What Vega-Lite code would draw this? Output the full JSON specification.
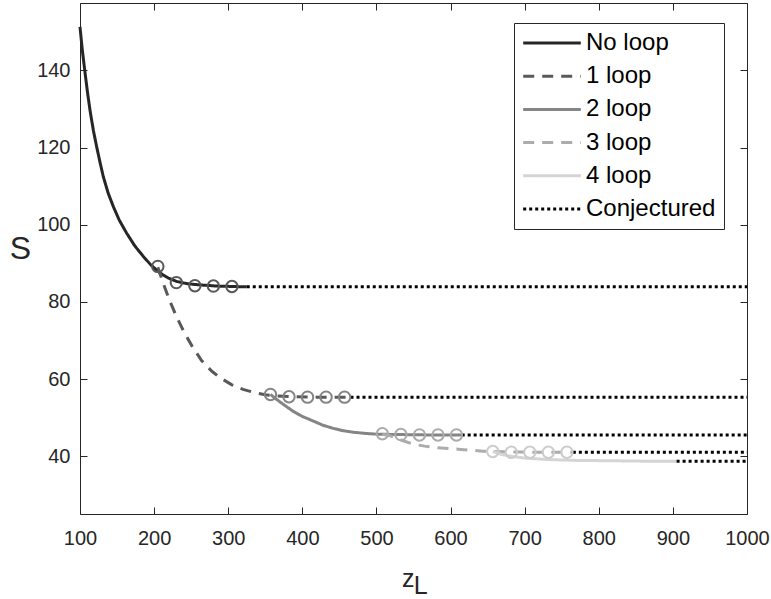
{
  "$schema": "https://vega.github.io/schema/vega-lite/v6.json",
  "width": 667,
  "height": 511,
  "autosize": {"type": "none"},
  "padding": {"left": 80, "top": 3, "right": 24, "bottom": 85},
  "background": "white",
  "config": {
    "font": "Liberation Sans",
    "view": {"stroke": "#262626", "strokeWidth": 1},
    "axis": {
      "grid": false,
      "domain": false,
      "tickColor": "#262626",
      "tickSize": -7,
      "tickWidth": 1,
      "labelColor": "#262626",
      "titleColor": "#262626",
      "labelFont": "Liberation Sans",
      "titleFont": "Liberation Sans",
      "titleFontWeight": "normal",
      "labelFontSize": 20,
      "labelOverlap": false
    }
  },
  "datasets": {
    "lines": [
      {"series": "No loop", "seg": "a", "z": 100, "S": 151.3},
      {"series": "No loop", "seg": "a", "z": 103, "S": 145.5},
      {"series": "No loop", "seg": "a", "z": 106.7, "S": 139.6},
      {"series": "No loop", "seg": "a", "z": 110, "S": 134.5},
      {"series": "No loop", "seg": "a", "z": 113.5, "S": 129.7},
      {"series": "No loop", "seg": "a", "z": 118, "S": 124.5},
      {"series": "No loop", "seg": "a", "z": 122.5, "S": 120.2},
      {"series": "No loop", "seg": "a", "z": 127, "S": 116.2},
      {"series": "No loop", "seg": "a", "z": 131.4, "S": 112.5},
      {"series": "No loop", "seg": "a", "z": 138, "S": 108.2},
      {"series": "No loop", "seg": "a", "z": 145, "S": 104.7},
      {"series": "No loop", "seg": "a", "z": 153, "S": 101.2},
      {"series": "No loop", "seg": "a", "z": 163, "S": 97.8},
      {"series": "No loop", "seg": "a", "z": 174, "S": 94.5},
      {"series": "No loop", "seg": "a", "z": 185.4, "S": 91.8},
      {"series": "No loop", "seg": "a", "z": 196, "S": 89.5},
      {"series": "No loop", "seg": "a", "z": 207.9, "S": 87.5},
      {"series": "No loop", "seg": "a", "z": 219, "S": 86.2},
      {"series": "No loop", "seg": "a", "z": 230.5, "S": 85.3},
      {"series": "No loop", "seg": "a", "z": 245, "S": 84.7},
      {"series": "No loop", "seg": "a", "z": 262, "S": 84.4},
      {"series": "No loop", "seg": "a", "z": 285, "S": 84.1},
      {"series": "No loop", "seg": "a", "z": 305, "S": 84.0},
      {"series": "No loop", "seg": "a", "z": 325, "S": 83.9},
      {"series": "1 loop", "seg": "b", "z": 205, "S": 89.0},
      {"series": "1 loop", "seg": "b", "z": 212, "S": 85.0},
      {"series": "1 loop", "seg": "b", "z": 221, "S": 80.3},
      {"series": "1 loop", "seg": "b", "z": 230, "S": 76.3},
      {"series": "1 loop", "seg": "b", "z": 240, "S": 72.3},
      {"series": "1 loop", "seg": "b", "z": 251, "S": 68.6},
      {"series": "1 loop", "seg": "b", "z": 264, "S": 64.8},
      {"series": "1 loop", "seg": "b", "z": 278, "S": 62.0},
      {"series": "1 loop", "seg": "b", "z": 290, "S": 60.2},
      {"series": "1 loop", "seg": "b", "z": 305, "S": 58.5},
      {"series": "1 loop", "seg": "b", "z": 320, "S": 57.3},
      {"series": "1 loop", "seg": "b", "z": 335, "S": 56.5},
      {"series": "1 loop", "seg": "b", "z": 350, "S": 55.9},
      {"series": "1 loop", "seg": "b", "z": 365, "S": 55.6},
      {"series": "1 loop", "seg": "b", "z": 390, "S": 55.4},
      {"series": "1 loop", "seg": "b", "z": 420, "S": 55.3},
      {"series": "1 loop", "seg": "b", "z": 465, "S": 55.3},
      {"series": "2 loop", "seg": "c", "z": 357, "S": 56.0},
      {"series": "2 loop", "seg": "c", "z": 365.4, "S": 54.7},
      {"series": "2 loop", "seg": "c", "z": 376, "S": 53.2},
      {"series": "2 loop", "seg": "c", "z": 387.8, "S": 51.6},
      {"series": "2 loop", "seg": "c", "z": 400, "S": 50.3},
      {"series": "2 loop", "seg": "c", "z": 414.8, "S": 49.1},
      {"series": "2 loop", "seg": "c", "z": 428, "S": 48.0},
      {"series": "2 loop", "seg": "c", "z": 441.8, "S": 47.2},
      {"series": "2 loop", "seg": "c", "z": 455, "S": 46.6},
      {"series": "2 loop", "seg": "c", "z": 468.8, "S": 46.2},
      {"series": "2 loop", "seg": "c", "z": 485, "S": 45.9},
      {"series": "2 loop", "seg": "c", "z": 500, "S": 45.7},
      {"series": "2 loop", "seg": "c", "z": 530, "S": 45.6},
      {"series": "2 loop", "seg": "c", "z": 570, "S": 45.5},
      {"series": "2 loop", "seg": "c", "z": 615, "S": 45.5},
      {"series": "3 loop", "seg": "d", "z": 508, "S": 45.7},
      {"series": "3 loop", "seg": "d", "z": 518, "S": 45.3},
      {"series": "3 loop", "seg": "d", "z": 536, "S": 44.0},
      {"series": "3 loop", "seg": "d", "z": 549.7, "S": 43.1},
      {"series": "3 loop", "seg": "d", "z": 565, "S": 42.6},
      {"series": "3 loop", "seg": "d", "z": 581, "S": 42.2},
      {"series": "3 loop", "seg": "d", "z": 610, "S": 41.8},
      {"series": "3 loop", "seg": "d", "z": 644, "S": 41.3},
      {"series": "3 loop", "seg": "d", "z": 680, "S": 41.1},
      {"series": "3 loop", "seg": "d", "z": 720, "S": 41.0},
      {"series": "3 loop", "seg": "d", "z": 765, "S": 41.0},
      {"series": "4 loop", "seg": "e", "z": 657, "S": 41.2},
      {"series": "4 loop", "seg": "e", "z": 668, "S": 40.5},
      {"series": "4 loop", "seg": "e", "z": 680, "S": 40.0},
      {"series": "4 loop", "seg": "e", "z": 700, "S": 39.5},
      {"series": "4 loop", "seg": "e", "z": 734, "S": 39.1},
      {"series": "4 loop", "seg": "e", "z": 770, "S": 38.9},
      {"series": "4 loop", "seg": "e", "z": 820, "S": 38.8},
      {"series": "4 loop", "seg": "e", "z": 860, "S": 38.7},
      {"series": "4 loop", "seg": "e", "z": 905, "S": 38.7},
      {"series": "Conjectured", "seg": "f1", "z": 325, "S": 83.9},
      {"series": "Conjectured", "seg": "f1", "z": 1000, "S": 83.9},
      {"series": "Conjectured", "seg": "f2", "z": 465, "S": 55.3},
      {"series": "Conjectured", "seg": "f2", "z": 1000, "S": 55.3},
      {"series": "Conjectured", "seg": "f3", "z": 615, "S": 45.5},
      {"series": "Conjectured", "seg": "f3", "z": 1000, "S": 45.5},
      {"series": "Conjectured", "seg": "f4", "z": 765, "S": 41.0},
      {"series": "Conjectured", "seg": "f4", "z": 1000, "S": 41.0},
      {"series": "Conjectured", "seg": "f5", "z": 905, "S": 38.7},
      {"series": "Conjectured", "seg": "f5", "z": 1000, "S": 38.7}
    ],
    "circles": [
      {"grp": "g1", "z": 205, "S": 89.2},
      {"grp": "g1", "z": 230, "S": 85.0},
      {"grp": "g1", "z": 255, "S": 84.2},
      {"grp": "g1", "z": 280, "S": 84.1},
      {"grp": "g1", "z": 305, "S": 84.0},
      {"grp": "g2", "z": 357, "S": 56.0},
      {"grp": "g2", "z": 382, "S": 55.4},
      {"grp": "g2", "z": 407, "S": 55.3},
      {"grp": "g2", "z": 432, "S": 55.3},
      {"grp": "g2", "z": 457, "S": 55.3},
      {"grp": "g3", "z": 508, "S": 45.8},
      {"grp": "g3", "z": 533, "S": 45.6},
      {"grp": "g3", "z": 558, "S": 45.5},
      {"grp": "g3", "z": 583, "S": 45.5},
      {"grp": "g3", "z": 608, "S": 45.5},
      {"grp": "g4", "z": 657, "S": 41.2},
      {"grp": "g4", "z": 682, "S": 41.0},
      {"grp": "g4", "z": 707, "S": 41.0},
      {"grp": "g4", "z": 732, "S": 41.0},
      {"grp": "g4", "z": 757, "S": 41.0}
    ]
  },
  "layer": [
    {
      "data": {"name": "lines"},
      "mark": {"type": "line", "strokeWidth": 3, "strokeCap": "butt"},
      "encoding": {
        "x": {
          "field": "z", "type": "quantitative",
          "scale": {"domain": [100, 1000], "nice": false, "zero": false},
          "axis": {
            "orient": "bottom",
            "values": [100, 200, 300, 400, 500, 600, 700, 800, 900, 1000],
            "format": "d",
            "labelFlush": false,
            "labelPadding": 21,
            "title": ["z\u2002\u200b", "\u200b\u2002L"],
            "titleFontSize": 25,
            "titleLineHeight": 7,
            "titleBaseline": "alphabetic",
            "titleY": 72,
            "titleX": 334,
            "titleAnchor": "start",
            "titleAlign": "center"
          }
        },
        "y": {
          "field": "S", "type": "quantitative",
          "scale": {"domain": [25, 157.5], "nice": false, "zero": false},
          "axis": {
            "orient": "left",
            "values": [40, 60, 80, 100, 120, 140],
            "labelFlush": false,
            "labelPadding": 17,
            "title": "S",
            "titleAngle": 0,
            "titleFontSize": 32,
            "titleAlign": "center",
            "titleBaseline": "alphabetic",
            "titleX": -60,
            "titleY": 255
          }
        },
        "color": {
          "field": "series", "type": "nominal",
          "scale": {
            "domain": ["No loop", "1 loop", "2 loop", "3 loop", "4 loop", "Conjectured"],
            "range": ["#262626", "#595959", "#858585", "#acacac", "#d4d4d4", "#000000"]
          },
          "legend": {
            "title": null,
            "orient": "none",
            "legendX": 434,
            "legendY": 20,
            "padding": 8,
            "strokeColor": "#262626",
            "fillColor": "white",
            "labelFontSize": 24,
            "labelColor": "#000000",
            "labelFont": "Liberation Sans",
            "symbolType": "M-4.8,0H4.8",
            "symbolSize": 144,
            "symbolStrokeWidth": 3,
            "symbolOffset": 18,
            "labelOffset": 22,
            "rowPadding": 9.2
          }
        },
        "strokeDash": {
          "field": "series", "type": "nominal",
          "scale": {
            "domain": ["No loop", "1 loop", "2 loop", "3 loop", "4 loop", "Conjectured"],
            "range": [[1, 0], [11, 8], [1, 0], [11, 8], [1, 0], [3, 3]]
          }
        },
        "detail": {"field": "seg"}
      }
    },
    {
      "data": {"name": "circles"},
      "mark": {"type": "point", "shape": "circle", "filled": false, "size": 130, "strokeWidth": 2, "opacity": 1},
      "encoding": {
        "x": {
          "field": "z", "type": "quantitative",
          "axis": {"orient": "top", "values": [100, 200, 300, 400, 500, 600, 700, 800, 900, 1000], "labels": false, "title": null}
        },
        "y": {
          "field": "S", "type": "quantitative",
          "axis": {"orient": "right", "values": [40, 60, 80, 100, 120, 140], "labels": false, "title": null}
        },
        "stroke": {
          "field": "grp", "type": "nominal",
          "scale": {"domain": ["g1", "g2", "g3", "g4"], "range": ["#595959", "#858585", "#acacac", "#cccccc"]},
          "legend": null
        }
      }
    }
  ]
}
